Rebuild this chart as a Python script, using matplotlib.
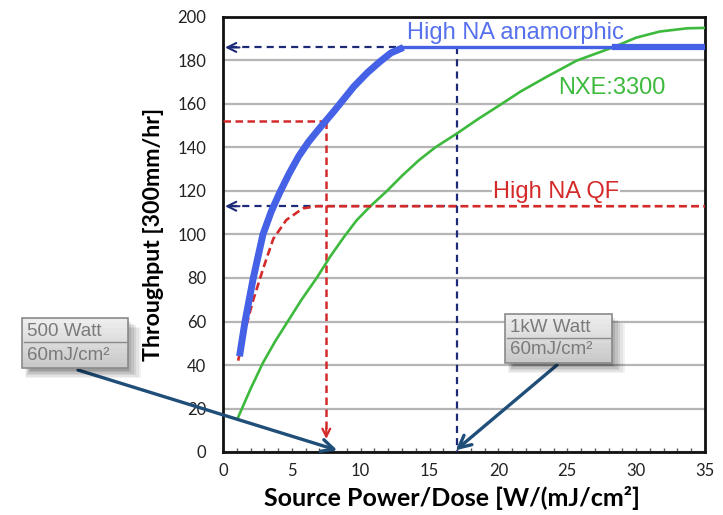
import matplotlib
matplotlib.use('Agg')
import matplotlib.pyplot as plt
from matplotlib.patches import Rectangle
from matplotlib.lines import Line2D

# ---------------- data ----------------
x_ticks = [0, 5, 10, 15, 20, 25, 30, 35]
y_ticks = [0, 20, 40, 60, 80, 100, 120, 140, 160, 180, 200]

# High NA anamorphic (rising part, then plateau)
hna_x = [1.2, 1.6, 2.2, 2.9, 3.5, 4.1, 4.8, 5.5, 6.2, 6.9, 7.5, 8.1, 8.8, 9.5, 10.5, 11.4, 12.2, 13.1]
hna_y = [44, 60, 80, 100, 110.5, 119, 128, 136, 142.5, 148, 152.5, 157, 162.5, 168, 174.5, 179.5, 183.5, 186]
hna_plateau_x = [13.1, 28.5, 35]
hna_plateau_y = [186, 186, 186]

# High NA QF
qf_x = [1.1, 1.6, 2.2, 2.9, 3.65, 4.6, 5.8, 6.8, 35]
qf_y = [42, 56, 70, 84, 98, 106.7, 112, 113, 113]

# NXE:3300
nxe_x = [1.1, 2.0, 2.9, 3.8, 4.7, 5.7, 6.8, 7.8, 8.8, 9.7, 10.7, 11.9, 13.0, 14.2, 15.4,
         17.0, 18.5, 20.1, 21.6, 23.5, 25.7, 28.3, 30.0, 31.7, 33.7, 35.0]
nxe_y = [16, 29, 41, 51, 60, 70, 80, 90, 99, 106.5, 113, 120, 127, 134, 140,
         146.5, 153, 159.5, 165.7, 172.5, 180, 186, 190.5, 193.3, 194.8, 195]

# reference markers
dose_500 = 7.5      # W/(mJ/cm2) for 500 W at 60 mJ/cm2
tp_500 = 152
dose_1kw = 17       # W/(mJ/cm2) for 1 kW at 60 mJ/cm2
tp_hna = 186
tp_qf = 113

# ---------------- style ----------------
BLUE = '#4562e6'
BLUE_TXT = '#5670ee'
GREEN = '#3dba3d'
RED = '#d42a2a'
NAVY = '#1c2a78'
ARROW = '#1f4e79'

W, H = 723, 515
fig = plt.figure(figsize=(W / 100, H / 100), dpi=100)
ax = fig.add_axes([223 / W, 63 / H, (705 - 223) / W, (452 - 17) / H])

ax.set_xlim(0, 35)
ax.set_ylim(0, 200)
ax.set_xticks(x_ticks)
ax.set_yticks(y_ticks)
ax.set_xticks(range(0, 36), minor=True)
ax.tick_params(axis='x', which='both', direction='in', length=3, width=1, color='#555555',
               labelsize=12, pad=8)
ax.tick_params(axis='y', which='both', length=0, labelsize=12, pad=12)
for lab in ax.get_xticklabels() + ax.get_yticklabels():
    lab.set_fontfamily('Lato')
    lab.set_color('#222222')
ax.grid(axis='y', color='#b5b5b5', lw=1.6)
ax.set_axisbelow(True)
for s in ax.spines.values():
    s.set_linewidth(2.0)
    s.set_color('#111111')

ax.set_xlabel('Source Power/Dose [W/(mJ/cm²]', fontfamily='Lato', fontweight='bold',
              fontsize=18)
ax.xaxis.set_label_coords((451.5 - 223) / 482, -0.079)
ax.set_ylabel('Throughput [300mm/hr]', fontfamily='Lato', fontweight='bold',
              fontsize=16.7, labelpad=10)

# navy dashed guide lines
nd = dict(color=NAVY, lw=1.6, dashes=(3.2, 2.3), zorder=3)
ax.plot([0.5, hna_x[-1]], [tp_hna, tp_hna], **nd)
ax.plot([0.5, dose_1kw], [tp_qf, tp_qf], **nd)
ax.plot([dose_1kw, dose_1kw], [tp_hna, 0], **nd)
for yy in (tp_hna, tp_qf):
    ax.annotate('', xy=(0.15, yy), xytext=(1.2, yy),
                arrowprops=dict(arrowstyle='->', color=NAVY, lw=1.5, mutation_scale=16,
                                shrinkA=0, shrinkB=0), zorder=4)

# red dashed guide lines
rd = dict(color=RED, lw=1.8, dashes=(3, 1.8), zorder=3)
ax.plot([0, dose_500], [tp_500, tp_500], **rd)
ax.plot([dose_500, dose_500], [tp_500, 10], **rd)
ax.annotate('', xy=(dose_500, 6), xytext=(dose_500, 11),
            arrowprops=dict(arrowstyle='->', color=RED, lw=1.6, mutation_scale=14,
                            shrinkA=0, shrinkB=0), zorder=4)

# curves
ax.plot(nxe_x, nxe_y, color=GREEN, lw=1.9, zorder=4)
ax.plot(qf_x, qf_y, color=RED, lw=1.9, dashes=(3, 1.6), zorder=5)
ax.plot(hna_x, hna_y, color=BLUE, lw=5.0, solid_capstyle='butt', solid_joinstyle='round', zorder=6)
ax.plot(hna_plateau_x[:2], hna_plateau_y[:2], color=BLUE, lw=2.4, zorder=6)
ax.plot(hna_plateau_x[1:], hna_plateau_y[1:], color=BLUE, lw=4.5, zorder=6)

# series labels
ax.text(21.2, 192.5, 'High NA anamorphic', color=BLUE_TXT, fontsize=17,
        fontfamily='Liberation Sans', ha='center', va='center', zorder=7)
ax.text(28.2, 167.5, 'NXE:3300', color=GREEN, fontsize=17,
        fontfamily='Liberation Sans', ha='center', va='center', zorder=7)
ax.text(24.2, 119.5, 'High NA QF', color=RED, fontsize=17,
        fontfamily='Liberation Sans', ha='center', va='center', zorder=7,
        bbox=dict(facecolor='white', edgecolor='none', pad=0.5))


# ---------------- callout boxes ----------------
def fx(px):
    return px / W


def fy(py):
    return 1 - py / H


def callout(x0, y0, x1, y1, line1, line2, ysep, y_l1, y_l2):
    # soft shadow
    for i, a in enumerate([0.05, 0.06, 0.07, 0.08, 0.09, 0.10]):
        off = 10 - i * 1.5
        fig.add_artist(Rectangle((fx(x0 + 3 + i), fy(y1 + off)),
                                 fx(x1 - x0 + off - 2 * i), (y1 - y0) / H,
                                 facecolor='#000000', edgecolor='none', alpha=a,
                                 transform=fig.transFigure, zorder=8))
    # gradient-ish body
    n = 10
    for i in range(n):
        c = 0.93 - 0.14 * i / (n - 1)
        yy0 = y0 + (y1 - y0) * i / n
        fig.add_artist(Rectangle((fx(x0), fy(yy0 + (y1 - y0) / n)), fx(x1 - x0), (y1 - y0) / n / H,
                                 facecolor=(c, c, c), edgecolor='none',
                                 transform=fig.transFigure, zorder=9))
    fig.add_artist(Rectangle((fx(x0), fy(y1)), fx(x1 - x0), (y1 - y0) / H,
                             facecolor='none', edgecolor='#8a8a8a', lw=1.2,
                             transform=fig.transFigure, zorder=10))
    fig.add_artist(Line2D([fx(x0 + 2), fx(x1 - 2)], [fy(ysep), fy(ysep)], color='#8a8a8a',
                          lw=1.0, transform=fig.transFigure, zorder=10))
    fig.text(fx(x0 + 5), fy(y_l1), line1, color='#7a7a7a', fontsize=13.5,
             fontfamily='Liberation Sans', va='center', ha='left', zorder=11)
    fig.text(fx(x0 + 5), fy(y_l2), line2, color='#7a7a7a', fontsize=13.5,
             fontfamily='Liberation Sans', va='center', ha='left', zorder=11)


callout(22, 318, 128, 368, '500 Watt', '60mJ/cm²', 342, 331, 355)
callout(505, 314, 612, 363, '1kW Watt', '60mJ/cm²', 338, 327, 350)

# pointer arrows (figure -> data)
ax.annotate('', xy=(8.3, 0.8), xycoords='data',
            xytext=(fx(78), fy(370)), textcoords='figure fraction',
            arrowprops=dict(arrowstyle='->', color=ARROW, lw=2.4, mutation_scale=22,
                            shrinkA=0, shrinkB=0),
            annotation_clip=False, zorder=12)
ax.annotate('', xy=(16.9, 0.8), xycoords='data',
            xytext=(fx(557), fy(365)), textcoords='figure fraction',
            arrowprops=dict(arrowstyle='->', color=ARROW, lw=2.4, mutation_scale=22,
                            shrinkA=0, shrinkB=0),
            annotation_clip=False, zorder=12)

fig.savefig('out.png', dpi=100)
